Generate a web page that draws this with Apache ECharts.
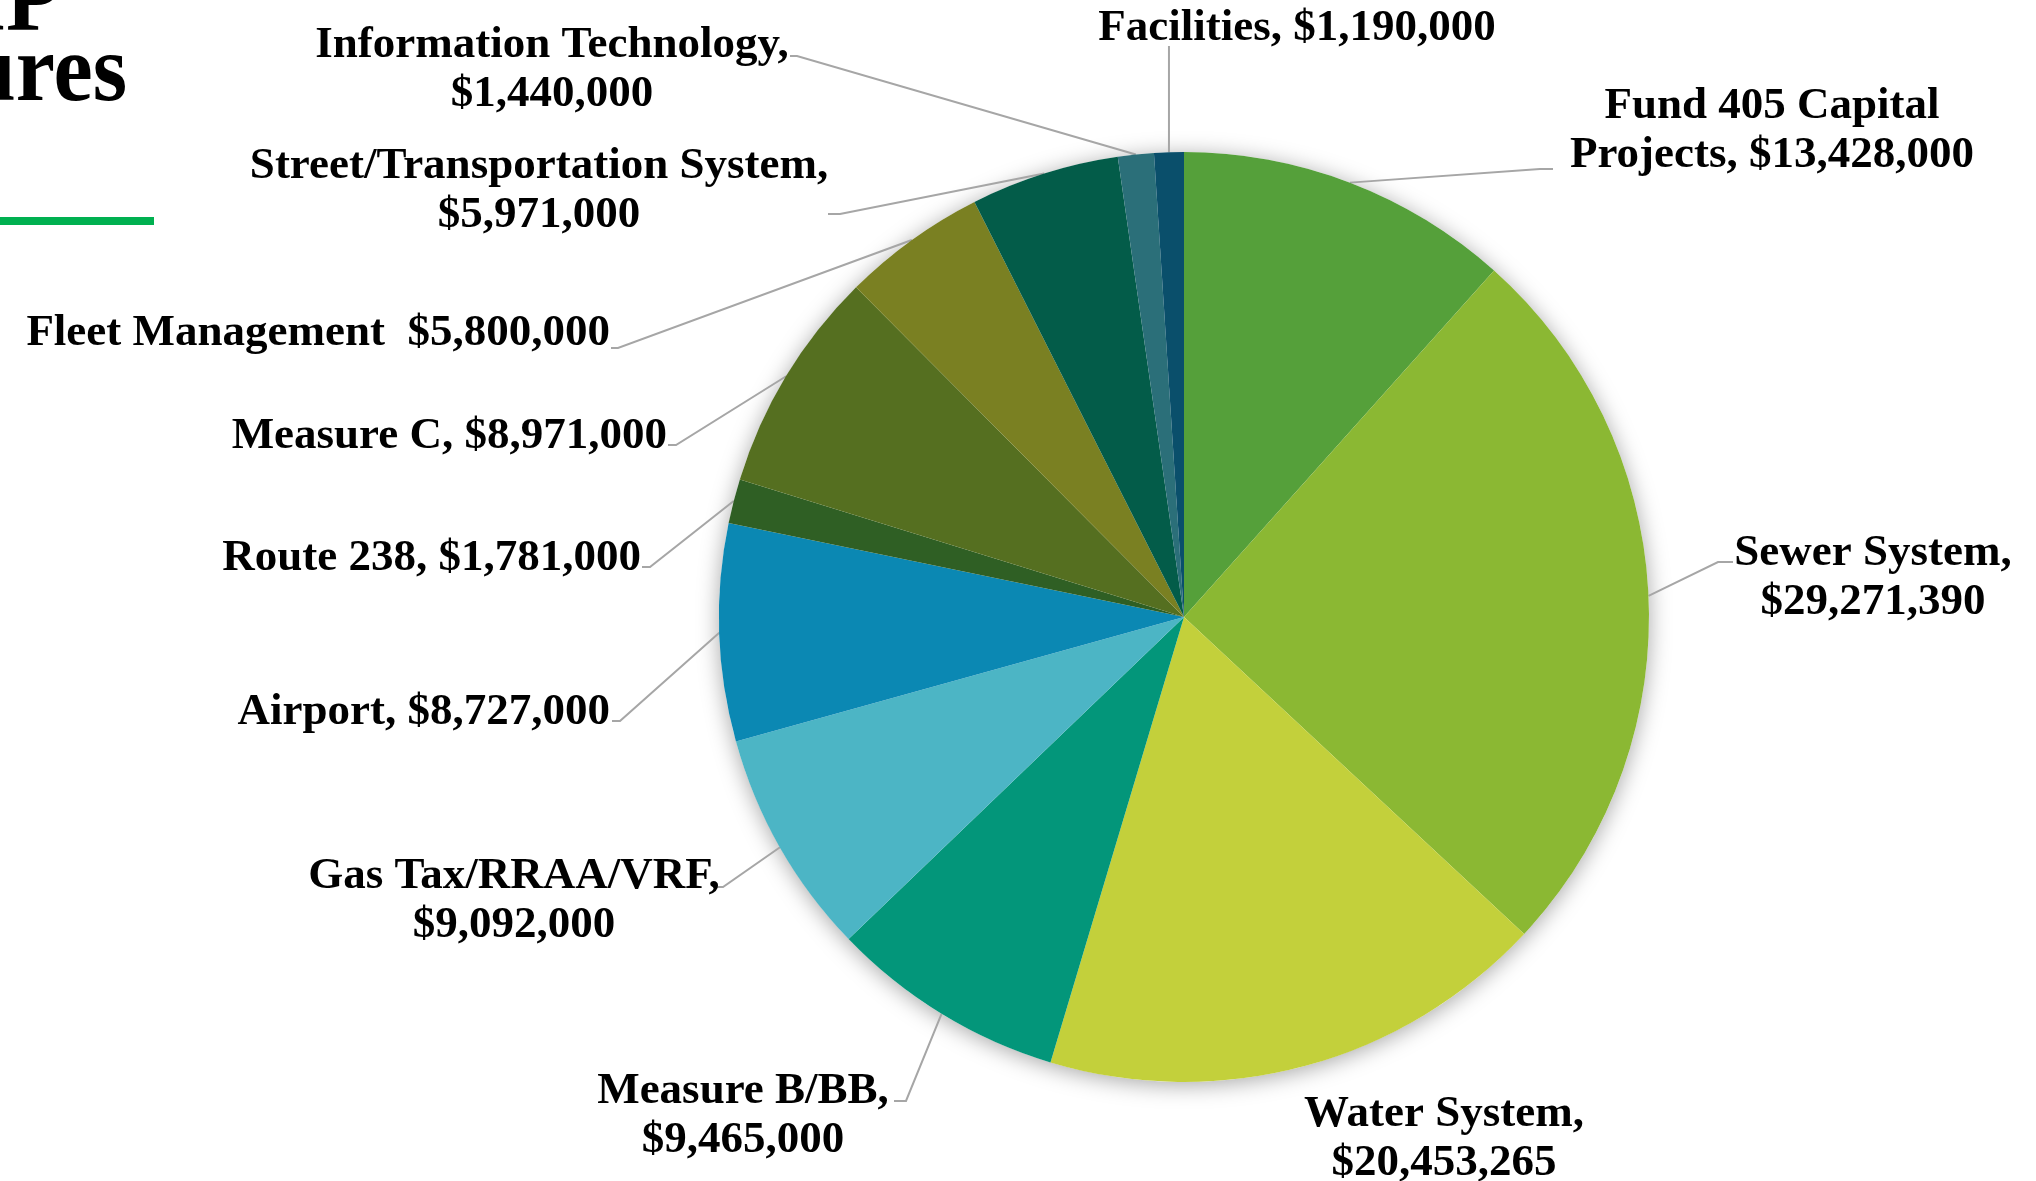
<!DOCTYPE html>
<html>
<head>
<meta charset="utf-8">
<script src="https://cdn.jsdelivr.net/npm/echarts@6/dist/echarts.min.js"></script>
<style>
html,body{margin:0;padding:0;background:#ffffff;}
#chart{width:2036px;height:1181px;}
</style>
</head>
<body>
<div id="chart"></div>
<script>
// ---- data ----
const categories = [
  'Fund 405 Capital Projects',
  'Sewer System',
  'Water System',
  'Measure B/BB',
  'Gas Tax/RRAA/VRF',
  'Airport',
  'Route 238',
  'Measure C',
  'Fleet Management',
  'Street/Transportation System',
  'Information Technology',
  'Facilities'
];
const values = [13428000, 29271390, 20453265, 9465000, 9092000, 8727000, 1781000, 8971000, 5800000, 5971000, 1440000, 1190000];
const labelSeparators = [', ', ',\n', ',\n', ',\n', ',\n', ', ', ', ', ', ', '  ', ',\n', ',\n', ', '];
const titleLines = ['CIP', 'Expenditures'];

// ---- styles / layout ----
const colors = ['#55A03A', '#8BB833', '#C3D03B', '#03967A', '#4CB5C5', '#0B88B3', '#2F5F24', '#556F20', '#7A8022', '#035C49', '#2B6F79', '#0A4F6B'];
const CX = 1184, CY = 617, R = 465;
// label anchor [x, y, align]
const labelBoxes = [
  [1772, 131, 'center'],
  [1873, 578, 'center'],
  [1444, 1139, 'center'],
  [743, 1116, 'center'],
  [514, 901, 'center'],
  [610, 712, 'right'],
  [641, 558, 'right'],
  [667, 436, 'right'],
  [610, 333, 'right'],
  [539, 191, 'center'],
  [552, 70, 'center'],
  [1297, 28, 'center']
];
// leader bend + end points (null = no leader)
const leaderEnds = [
  [[1540, 169], [1553, 169]],
  [[1718, 562], [1733, 562]],
  null,
  [[906, 1101], [894, 1101]],
  [[723, 887], [713, 887]],
  [[620, 721], [612, 721]],
  [[650, 567], [642, 567]],
  [[676, 445], [668, 445]],
  [[618, 348], [611, 348]],
  [[840, 214], [828, 214]],
  [[797, 56], [790, 56]],
  'vertical'
];

const total = values.reduce((a, b) => a + b, 0);
const midAngles = [];
{
  let acc = 0;
  values.forEach(v => {
    midAngles.push((acc + v / 2) / total * Math.PI * 2);
    acc += v;
  });
}
function fmtMoney(v) { return '$' + v.toLocaleString('en-US'); }
function labelName(i) {
  return i === 0 ? categories[0].replace('Capital ', 'Capital\n') : categories[i];
}

const chart = echarts.init(document.getElementById('chart'), null, { renderer: 'canvas' });
const option = {
  animation: false,
  backgroundColor: '#ffffff',
  graphic: [
    {
      type: 'text', x: 60, y: 5, scaleX: 0.92, z: 10,
      style: { text: titleLines[0], font: 'bold 96px "Liberation Serif"', fill: '#000', align: 'right', verticalAlign: 'middle', textAlign: 'right', textVerticalAlign: 'middle' }
    },
    {
      type: 'text', x: 127, y: 75, scaleX: 0.92, z: 10,
      style: { text: titleLines[1], font: 'bold 96px "Liberation Serif"', fill: '#000', align: 'right', verticalAlign: 'middle', textAlign: 'right', textVerticalAlign: 'middle' }
    },
    {
      type: 'rect', shape: { x: 0, y: 217, width: 154, height: 8 }, style: { fill: '#00B050' }, z: 10
    }
  ],
  series: [
    {
      type: 'pie',
      silent: true,
      z: 1,
      center: [CX, CY],
      radius: R,
      label: { show: false },
      labelLine: { show: false },
      itemStyle: { color: '#ffffff', shadowBlur: 22, shadowColor: 'rgba(0,0,0,0.35)', shadowOffsetY: 3 },
      data: [{ value: 1, name: 'shadow' }]
    },
    {
      type: 'pie',
      z: 2,
      center: [CX, CY],
      radius: R,
      startAngle: 90,
      clockwise: true,
      avoidLabelOverlap: false,
      emphasis: { disabled: true },
      itemStyle: { borderWidth: 0 },
      label: {
        show: true,
        position: 'outside',
        overflow: 'none',
        fontFamily: '"Liberation Serif", "DejaVu Serif", serif',
        fontWeight: 'bold',
        fontSize: 45,
        lineHeight: 49,
        color: '#000000',
        formatter: p => labelName(p.dataIndex) + labelSeparators[p.dataIndex] + fmtMoney(values[p.dataIndex])
      },
      labelLine: { show: true, lineStyle: { color: '#A6A6A6', width: 2 } },
      labelLayout: function (params) {
        const i = params.dataIndex;
        const b = labelBoxes[i];
        const a = midAngles[i];
        const ex = CX + R * Math.sin(a), ey = CY - R * Math.cos(a);
        const res = { x: b[0], y: b[1], align: b[2], verticalAlign: 'middle' };
        const le = leaderEnds[i];
        if (le === 'vertical') {
          res.labelLinePoints = [[ex, ey], [ex, 48], [ex, 46]];
        } else if (le) {
          res.labelLinePoints = [[ex, ey], le[0], le[1]];
        }
        return res;
      },
      data: categories.map((c, i) => ({
        name: c,
        value: values[i],
        itemStyle: { color: colors[i] },
        labelLine: leaderEnds[i] ? undefined : { show: false }
      }))
    }
  ]
};
chart.setOption(option);
</script>
</body>
</html>
